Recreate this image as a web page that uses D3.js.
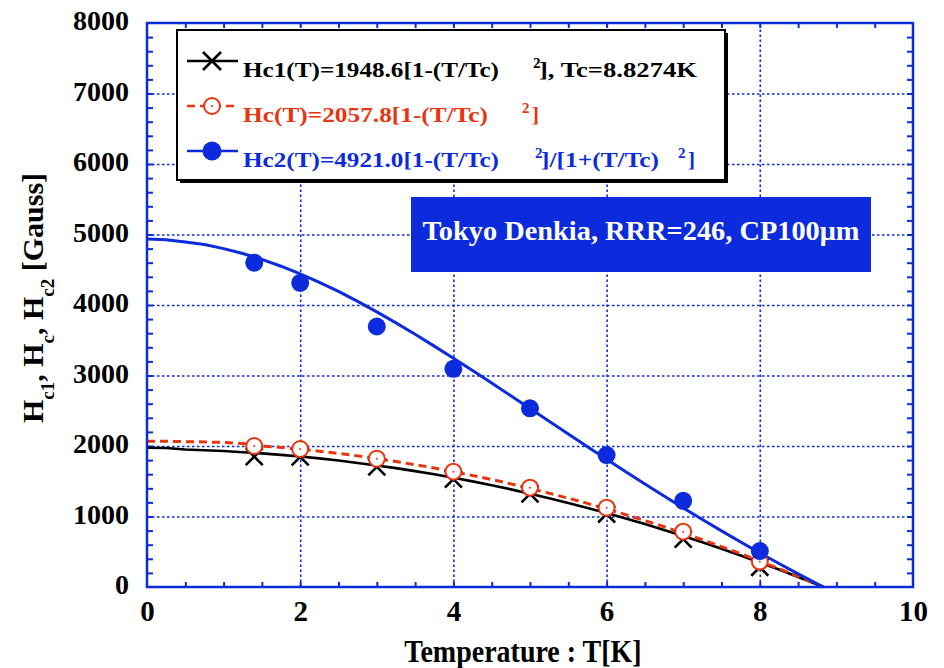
<!DOCTYPE html>
<html>
<head>
  <meta charset='utf-8'>
  <title>Hc vs Temperature</title>
  <script src="https://cdnjs.cloudflare.com/ajax/libs/d3/7.8.5/d3.min.js"></script>
  <style>
    body { margin: 0; background: #fff; }
    text { font-family: "Liberation Serif", "Times New Roman", serif; font-weight: bold; }
  </style>
</head>
<body>
  <svg width="944" height="668" id="chart"></svg>
  <script>
    // measured points (markers)
    const tempPts = [1.4, 2, 3, 4, 5, 6, 7, 8];
    const hc1Pts = [1850, 1845, 1705, 1530, 1320, 1035, 680, 280];
    const hcPts = [2000, 1957, 1820, 1636, 1409, 1125, 785, 360];
    const hc2Pts = [4600, 4315, 3695, 3095, 2535, 1872, 1222, 510];

    // fitted curves
    const curveT = [0, 0.25, 0.5, 0.75, 1, 1.25, 1.5, 1.75, 2, 2.25, 2.5, 2.75, 3, 3.25, 3.5, 3.75, 4, 4.25, 4.5, 4.75, 5, 5.25, 5.5, 5.75, 6, 6.25, 6.5, 6.75, 7, 7.25, 7.5, 7.75, 8, 8.25, 8.5, 8.75, 8.83];
    const hc1Curve = [1975, 1972, 1950, 1940, 1928, 1912, 1895, 1874, 1852, 1824, 1795, 1760, 1724, 1686, 1644, 1598, 1550, 1498, 1443, 1385, 1323, 1260, 1192, 1122, 1048, 972, 892, 810, 723, 634, 542, 447, 348, 247, 142, 34, 0];
    const hcCurve = [2068, 2066, 2062, 2058, 2050, 2035, 2000, 1980, 1955, 1926, 1895, 1860, 1820, 1780, 1735, 1688, 1636, 1582, 1524, 1463, 1398, 1330, 1260, 1186, 1107, 1027, 942, 855, 764, 670, 572, 472, 368, 260, 150, 36, 0];
    const hc2Curve = [4935, 4925, 4895, 4858, 4800, 4730, 4648, 4550, 4442, 4322, 4192, 4052, 3903, 3747, 3585, 3417, 3245, 3070, 2892, 2712, 2531, 2350, 2170, 1990, 1812, 1636, 1462, 1291, 1122, 957, 796, 638, 484, 333, 187, 44, 0];

    const xTicks = [0, 2, 4, 6, 8, 10];
    const yTicks = [0, 1000, 2000, 3000, 4000, 5000, 6000, 7000, 8000];

    const BLUE = '#0b2bdc';
    const RED = '#e8340f';

    const svg = d3.select('#chart');
    const x = d3.scaleLinear().domain([0, 10]).range([147, 913]);
    const y = d3.scaleLinear().domain([0, 8000]).range([587, 23]);
    const W = 913 - 147, H = 587 - 23;

    // grid
    const grid = svg.append('g');
    grid.append('g').attr('transform', 'translate(0,587)')
      .call(d3.axisBottom(x).tickValues([2, 4, 6, 8]).tickSize(-H).tickFormat(''))
      .call(g => g.select('.domain').remove());
    grid.append('g').attr('transform', 'translate(147,0)')
      .call(d3.axisLeft(y).tickValues(d3.range(1000, 8000, 1000)).tickSize(-W).tickFormat(''))
      .call(g => g.select('.domain').remove());
    grid.selectAll('line').attr('stroke', BLUE).attr('stroke-width', 1.6).attr('stroke-dasharray', '2.5,2.5');

    // minor ticks, all four sides, inward
    const minorX = d3.range(0.5, 10, 0.5);
    const minorY = d3.range(200, 8000, 200);
    const ticks = svg.append('g');
    ticks.append('g').attr('transform', 'translate(0,587)').call(d3.axisBottom(x).tickValues(minorX).tickSize(-5).tickFormat(''));
    ticks.append('g').attr('transform', 'translate(0,23)').call(d3.axisTop(x).tickValues(minorX).tickSize(-5).tickFormat(''));
    ticks.append('g').attr('transform', 'translate(147,0)').call(d3.axisLeft(y).tickValues(minorY).tickSize(-6).tickFormat(''));
    ticks.append('g').attr('transform', 'translate(913,0)').call(d3.axisRight(y).tickValues(minorY).tickSize(-6).tickFormat(''));
    ticks.selectAll('.domain').remove();
    ticks.selectAll('line').attr('stroke', BLUE).attr('stroke-width', 2);

    // tick labels
    svg.append('g').attr('transform', 'translate(0,587)')
      .call(d3.axisBottom(x).tickValues(xTicks).tickSize(0).tickFormat(d3.format('d')))
      .call(g => g.select('.domain').remove())
      .selectAll('text').attr('y', 34).attr('dy', null)
      .attr('font-size', 29).attr('fill', '#000').attr('font-family', null);
    svg.append('g').attr('transform', 'translate(147,0)')
      .call(d3.axisLeft(y).tickValues(yTicks).tickSize(0).tickFormat(d3.format('d')))
      .call(g => g.select('.domain').remove())
      .selectAll('text').attr('x', -18).attr('dy', null).attr('y', 6.5)
      .attr('font-size', 28).attr('fill', '#000').attr('font-family', null);

    // info box
    svg.append('rect').attr('x', 411).attr('y', 197).attr('width', 460).attr('height', 75).attr('fill', BLUE);
    svg.append('text').attr('x', 641).attr('y', 240).attr('text-anchor', 'middle')
      .attr('font-size', 28).attr('fill', '#fff').attr('textLength', 437).attr('lengthAdjust', 'spacingAndGlyphs')
      .text('Tokyo Denkia, RRR=246, CP100\u03bcm');

    // curves
    const line = d3.line().x(d => x(d[0])).y(d => y(d[1]));
    const pairs = (xs, ys) => xs.map((v, i) => [v, ys[i]]);
    svg.append('path').datum(pairs(curveT, hc1Curve)).attr('d', line)
      .attr('fill', 'none').attr('stroke', '#000').attr('stroke-width', 2.6);
    svg.append('path').datum(pairs(curveT, hcCurve)).attr('d', line)
      .attr('fill', 'none').attr('stroke', RED).attr('stroke-width', 3).attr('stroke-dasharray', '8,5');
    svg.append('path').datum(pairs(curveT, hc2Curve)).attr('d', line)
      .attr('fill', 'none').attr('stroke', BLUE).attr('stroke-width', 3);

    // markers
    function cross(g, s) {
      g.append('path').attr('d', `M${-s},${-s}L${s},${s}M${-s},${s}L${s},${-s}`)
        .attr('stroke', '#000').attr('stroke-width', 2.6).attr('fill', 'none');
    }
    function ring(g, r) {
      g.append('circle').attr('r', r).attr('fill', '#fff').attr('stroke', RED).attr('stroke-width', 2);
      g.append('circle').attr('r', 1).attr('fill', RED);
    }
    function dot(g, r) {
      g.append('circle').attr('r', r).attr('fill', BLUE);
    }
    svg.append('g').selectAll('g').data(pairs(tempPts, hc1Pts)).join('g')
      .attr('transform', d => `translate(${x(d[0])},${y(d[1])})`).each(function () { cross(d3.select(this), 8.5); });
    svg.append('g').selectAll('g').data(pairs(tempPts, hcPts)).join('g')
      .attr('transform', d => `translate(${x(d[0])},${y(d[1])})`).each(function () { ring(d3.select(this), 8); });
    svg.append('g').selectAll('g').data(pairs(tempPts, hc2Pts)).join('g')
      .attr('transform', d => `translate(${x(d[0])},${y(d[1])})`).each(function () { dot(d3.select(this), 9); });

    // frame
    svg.append('rect').attr('x', 147).attr('y', 23).attr('width', W).attr('height', H)
      .attr('fill', 'none').attr('stroke', BLUE).attr('stroke-width', 2.5);

    // legend
    const leg = svg.append('g');
    leg.append('rect').attr('x', 180).attr('y', 33).attr('width', 548).attr('height', 150).attr('fill', '#000');
    leg.append('rect').attr('x', 177).attr('y', 30).attr('width', 548).attr('height', 150)
      .attr('fill', '#fff').attr('stroke', '#000').attr('stroke-width', 2);

    const rows = [
      { ly: 61, by: 77, color: '#000', dash: null, mark: g => cross(g, 9),
        parts: [['Hc1(T)=1948.6[1-(T/Tc)', 243, 256], ['2', 533, null, true], ['], Tc=8.8274K', 539, 158]] },
      { ly: 106, by: 122, color: RED, dash: '8,5', mark: g => ring(g, 8),
        parts: [['Hc(T)=2057.8[1-(T/Tc)', 243, 245], ['2', 522, null, true], [']', 532, null]] },
      { ly: 151, by: 167, color: BLUE, dash: null, mark: g => dot(g, 9.5),
        parts: [['Hc2(T)=4921.0[1-(T/Tc)', 243, 256], ['2', 535, null, true], [']/[1+(T/Tc)', 541, 118], ['2', 678, null, true], [']', 688, null]] }
    ];
    rows.forEach(r => {
      leg.append('line').attr('x1', 187).attr('x2', 238).attr('y1', r.ly).attr('y2', r.ly)
        .attr('stroke', r.color).attr('stroke-width', 2.6).attr('stroke-dasharray', r.dash);
      r.mark(leg.append('g').attr('transform', `translate(212,${r.ly})`));
      r.parts.forEach(([t, px, len, sup]) => {
        const txt = leg.append('text').attr('x', px).attr('y', sup ? r.by - 9 : r.by)
          .attr('font-size', sup ? 15 : 21).attr('fill', r.color).text(t);
        if (len) txt.attr('textLength', len).attr('lengthAdjust', 'spacingAndGlyphs');
      });
    });

    // axis titles
    svg.append('text').attr('transform', 'translate(523,662) scale(1,1.15)').attr('text-anchor', 'middle')
      .attr('font-size', 28).text('Temperature : T[K]');

    const yt = svg.append('text').attr('transform', 'translate(43,298) rotate(-90)')
      .attr('text-anchor', 'middle').attr('font-size', 30);
    [['H', 0], ['c1', 1], [', ', 0], ['H', 0], ['c', 1], [', ', 0], ['H', 0], ['c2', 1], ['  [Gauss]', 0]]
      .reduce((prev, [t, sub]) => {
        yt.append('tspan').attr('dy', sub === prev ? 0 : (sub ? 11 : -11))
          .attr('font-size', sub ? 19 : 30).text(t);
        return sub;
      }, 0);
  </script>
</body>
</html>
